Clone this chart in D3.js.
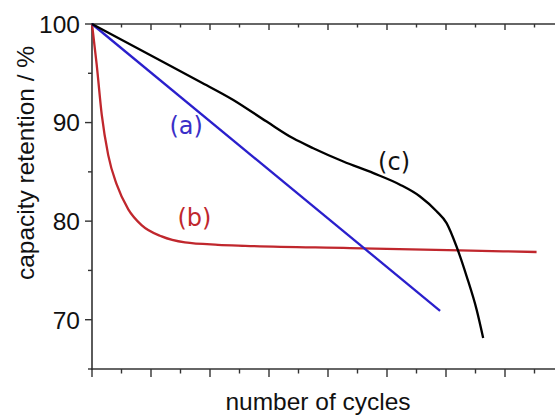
<!DOCTYPE html>
<html><head><meta charset="utf-8">
<script src="https://cdn.jsdelivr.net/npm/d3@7"></script>
<style>html,body{margin:0;padding:0;background:#fff;overflow:hidden}</style>
</head><body>
<svg id="c" width="555" height="416"></svg>
<script>
// Data (x: arbitrary cycle units, y: capacity retention %)
const seriesA = [[0,100],[11.8,70.9]];
const seriesB = [[0,100],[0.16,95.85],[0.33,90.8],[0.55,86.7],[0.84,83.7],[1.23,81.2],[1.68,79.6],[2.36,78.45],[3.15,77.84],[4.27,77.6],[5.19,77.5],[8.75,77.27],[12.47,77.03],[15.07,76.87]];
const seriesC = [[0,100],[2,96.8],[3.66,94.15],[4.79,92.3],[5.92,90.1],[6.82,88.4],[7.5,87.4],[8.52,86.05],[9.54,84.87],[10.44,83.7],[11.12,82.5],[11.68,81.0],[12.02,79.8],[12.36,77.4],[12.7,74.4],[13.04,71.0],[13.26,68.15]];
const yMajorTicks = [70,80,90,100];
const yMinorTicks = [65,75,85,95];
const xTicks = d3.range(0,17,1);
const labels = [{t:"(a)",x:3.19,y:89.67,c:"#3a2fc8"},{t:"(b)",x:3.47,y:80.24,c:"#c0272d"},{t:"(c)",x:10.24,y:85.97,c:"#111"}];
const seriesList = [{d:seriesB,c:"#c0272d"},{d:seriesA,c:"#2a1fcc"},{d:seriesC,c:"#000"}];

const svg = d3.select("#c");
const x = d3.scaleLinear().domain([0,16]).range([92,564]);
const y = d3.scaleLinear().domain([65,100]).range([369,24]);
const axCol = "#333";
const font = "Liberation Sans, Arial, sans-serif";

// top axis
const gt = svg.append("g").attr("transform","translate(0,24)");
gt.append("line").attr("x1",92).attr("x2",555).attr("stroke",axCol).attr("stroke-width",1.6);
gt.selectAll("line.t").data(xTicks).join("line").attr("class","t")
  .attr("x1",d=>x(d)).attr("x2",d=>x(d)).attr("y1",0).attr("y2",d=>d%2===0?6:3.5)
  .attr("stroke",axCol).attr("stroke-width",1.4);

// bottom axis
const gb = svg.append("g").attr("transform","translate(0,369)");
gb.append("line").attr("x1",91).attr("x2",555).attr("stroke",axCol).attr("stroke-width",1.6);
gb.selectAll("line.t").data(xTicks).join("line").attr("class","t")
  .attr("x1",d=>x(d)).attr("x2",d=>x(d)).attr("y1",0).attr("y2",d=>d%2===0?8:4.5)
  .attr("stroke",axCol).attr("stroke-width",1.4);

// left axis
const gl = svg.append("g").attr("transform","translate(92,0)");
gl.append("line").attr("y1",23).attr("y2",370).attr("stroke",axCol).attr("stroke-width",1.6);
gl.selectAll("line.M").data(yMajorTicks).join("line").attr("class","M")
  .attr("y1",d=>y(d)).attr("y2",d=>y(d)).attr("x1",0).attr("x2",-7).attr("stroke",axCol).attr("stroke-width",1.4);
gl.selectAll("line.m").data(yMinorTicks).join("line").attr("class","m")
  .attr("y1",d=>y(d)).attr("y2",d=>y(d)).attr("x1",0).attr("x2",-4).attr("stroke",axCol).attr("stroke-width",1.4);
gl.selectAll("text").data(yMajorTicks).join("text")
  .attr("x",-12).attr("y",d=>y(d)).attr("dy","0.36em").attr("text-anchor","end")
  .attr("font-family",font).attr("font-size",24.5).attr("fill","#111")
  .text(d=>d);

// axis titles
svg.append("text").attr("transform","translate(34,163) rotate(-90)").attr("text-anchor","middle")
  .attr("font-family",font).attr("font-size",24.5).attr("fill","#111")
  .text("capacity retention / %");
svg.append("text").attr("x",318).attr("y",410).attr("text-anchor","middle")
  .attr("font-family",font).attr("font-size",24.5).attr("fill","#111")
  .text("number of cycles");

// series
const line = d3.line().x(d=>x(d[0])).y(d=>y(d[1])).curve(d3.curveMonotoneX);
seriesList.forEach(s=>{
  svg.append("path").attr("d",line(s.d)).attr("fill","none").attr("stroke",s.c)
    .attr("stroke-width",2.3).attr("stroke-linejoin","round");
});

// labels
svg.selectAll("text.lab").data(labels).join("text").attr("class","lab")
  .attr("x",d=>x(d.x)).attr("y",d=>y(d.y)).attr("text-anchor","middle").attr("dy","0.32em")
  .attr("font-family","DejaVu Sans, Verdana, sans-serif").attr("font-size",24).attr("fill",d=>d.c)
  .text(d=>d.t);
</script>
</body></html>
